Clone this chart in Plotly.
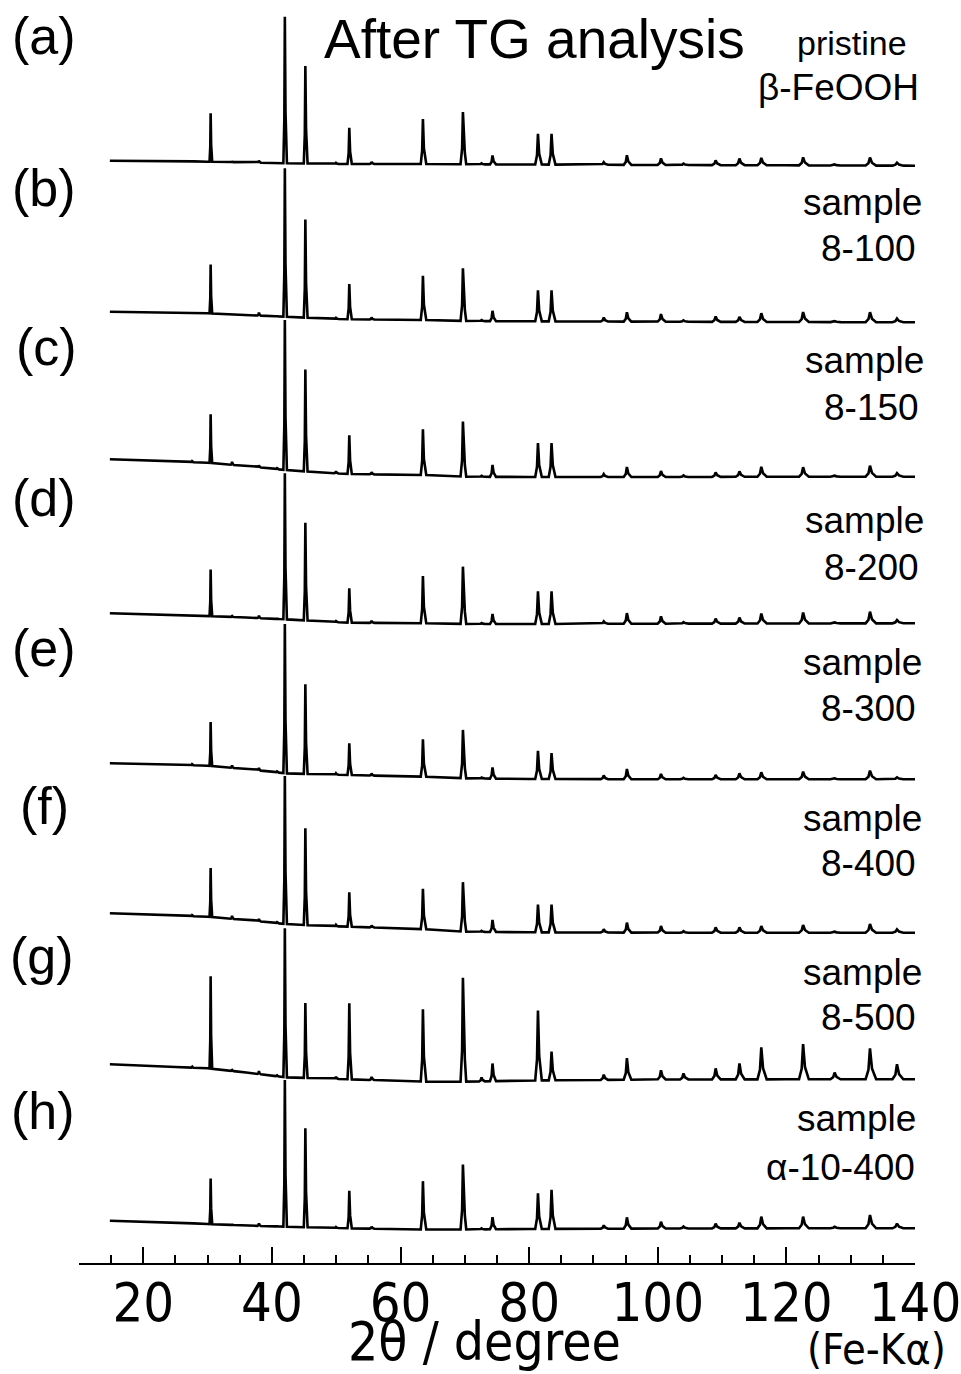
import numpy as np
import plotly.graph_objects as go

# ---- data -------------------------------------------------------------
# 2theta positions (deg, Fe-Kalpha) of the reflections that show up in the patterns
peak_2theta = [27.6, 30.47, 33.8, 37.98, 40.8, 42.01, 45.20, 49.96, 52.03, 55.5,
               63.48, 69.70, 72.6, 74.3, 81.37, 83.48, 91.6, 95.2, 100.5, 104.0,
               109.0, 112.7, 116.1, 122.6, 127.5, 133.0, 137.2]

# peak heights (a.u.) above the local background, one list per sample
h_a = [0.5, 48.4, 0.5, 2, 0.5, 146.6, 97.5, 1, 36.3, 2, 45, 52.3, 1, 9, 30.7, 30.7,
       2.5, 9.7, 6.7, 1.5, 4.7, 6.7, 7.3, 8, 1, 8, 3]
h_b = [0.5, 49, 0.5, 3, 0.5, 148.4, 98.2, 1, 35.3, 2, 44.3, 52.7, 1, 10.3, 31, 31,
       4, 9.3, 7.7, 1.5, 5.3, 5, 8.7, 10, 1, 10, 3.7]
h_c = [1, 48.7, 3, 2, 1, 150, 102, 2, 38.7, 2, 45.7, 55, 1, 12, 34, 34,
       3, 10, 6, 1.5, 4.5, 5.5, 10, 9.5, 1, 11, 3.5]
h_d = [0.5, 46.7, 1, 2.5, 0.5, 146, 97.7, 1, 34.4, 2, 47.3, 57.3, 1, 10, 32.7, 32.7,
       2.5, 10.7, 7.3, 1.5, 5, 6, 10, 11, 1, 11.7, 3.3]
h_e = [1, 44, 2.5, 2.5, 1, 149.3, 89.7, 1.5, 31.7, 2, 37.4, 48.3, 1, 11.2, 28.3, 26,
       3.7, 10.3, 5.3, 1.5, 4.3, 6, 7, 7.7, 1, 8.7, 2]
h_f = [1, 49, 3, 2.5, 1, 148, 96.7, 1.5, 34.4, 2, 40.3, 49.4, 1, 12, 27.7, 27.7,
       3.3, 10, 6.7, 1.5, 5.3, 5.3, 6.7, 7.7, 1, 8.7, 3.3]
h_g = [1, 92.3, 1, 3, 1, 149, 75, 2, 76, 3, 72.4, 104, 4, 17.7, 70, 28.7,
       5.3, 21.7, 9.3, 6, 11, 16, 32, 35.3, 6.7, 31, 15]
h_h = [0.5, 45.7, 0.5, 2.5, 0.5, 146.7, 99, 1, 37.6, 2, 48.3, 65, 1, 12.2, 35.6, 39,
       3.3, 11.3, 6.7, 2, 4.7, 5.7, 11.7, 11.7, 1.5, 13.3, 4.7]

# background drift (a.u., relative to the start of each scan) at these 2theta nodes
bg_2theta = [14.8, 20, 25, 30, 36, 42, 48, 52, 58, 64, 70, 80, 100, 120, 140]
bg_a = [0, 0, -0.3, -1, -1.6, -2.6, -3, -3.3, -3.3, -3.3, -3.6, -3.8, -4.3, -4.6, -5]
bg_b = [0, -0.3, -0.8, -1.6, -3.3, -5, -6.8, -7.6, -8, -8.3, -9.3, -9.6, -10, -10.3, -10.6]
bg_c = [0, -1.2, -2.4, -3.4, -6.7, -10.7, -13.4, -14.7, -15.2, -15.7, -17.4, -17.7, -17.7, -17.4, -17.4]
bg_d = [0, -0.7, -1.7, -2.7, -4.2, -6, -8.2, -9.4, -9.7, -10, -10.7, -10.7, -10.4, -10.2, -10]
bg_e = [0, -0.7, -1.5, -2.4, -5.7, -10, -11.2, -11.7, -12.7, -13.4, -15, -15.7, -16, -16, -16]
bg_f = [0, -1.2, -2.2, -3.4, -6.7, -10.7, -12.7, -13.4, -14.7, -16, -18.4, -19, -19.4, -19.4, -19.4]
bg_g = [0, -1.7, -2.7, -4, -8.2, -13, -14.2, -15, -16.2, -17.4, -17.4, -16.2, -15.2, -15, -15]
bg_h = [0, -0.8, -1.8, -3.3, -4.8, -6, -7, -7.6, -8.3, -8.8, -8.8, -8.3, -7.8, -7.6, -7.6]

# vertical stacking offsets (a.u.)
stack_offset = [1102.3, 951.3, 803.7, 649.7, 499.7, 349.7, 198.7, 42.3]

panel_tags = ["(a)", "(b)", "(c)", "(d)", "(e)", "(f)", "(g)", "(h)"]
sample_line1 = ["pristine", "sample", "sample", "sample", "sample", "sample", "sample", "sample"]
sample_line2 = ["β-FeOOH", "8-100", "8-150", "8-200", "8-300", "8-400", "8-500", "α-10-400"]

heights = [h_a, h_b, h_c, h_d, h_e, h_f, h_g, h_h]
backgrounds = [bg_a, bg_b, bg_c, bg_d, bg_e, bg_f, bg_g, bg_h]

X_MIN, X_MAX = 10, 140
Y_TOP = 1263

# ---- figure geometry (px) ---------------------------------------------
W, H = 961, 1374
ML, MR, MT, MB = 79, 44, 0, 111
PW = W - ML - MR


def paper_x(px):
    return (px - ML) / PW


def paper_y(px):
    return (H - MB - px) / (H - MB - MT)


def profile(pos):
    """Sharp peak outline (relative x, relative y) with a Kalpha2-like right tail."""
    w = 0.12 + 0.005 * (pos - 20)
    rx = [-w, -0.35 * w, 0.0, 0.45 * w, 1.4 * w]
    ry = [0.0, 0.3, 1.0, 0.35, 0.0]
    return rx, ry


def build_pattern(hts, bg, offset):
    xs = set(bg_2theta)
    shapes = []
    for p, h in zip(peak_2theta, hts):
        rx, ry = profile(p)
        sx = [p + r for r in rx]
        shapes.append((sx, [h * r for r in ry]))
        xs.update(sx)
    x = np.array(sorted(v for v in xs if bg_2theta[0] <= v <= bg_2theta[-1]))
    y = offset + np.interp(x, bg_2theta, bg)
    for sx, sy in shapes:
        y = y + np.interp(x, sx, sy, left=0.0, right=0.0)
    return x, y


fig = go.Figure()
for hts, bg, off in zip(heights, backgrounds, stack_offset):
    x, y = build_pattern(hts, bg, off)
    fig.add_trace(go.Scatter(x=x, y=y, mode="lines",
                             line=dict(color="black", width=2.6),
                             showlegend=False, hoverinfo="skip"))

SANS = "Liberation Sans, Arial, sans-serif"
NARROW = "DejaVu Sans Condensed, Liberation Sans Narrow, Arial Narrow, sans-serif"

ann = []
# title
ann.append(dict(text="After TG analysis", x=paper_x(323), y=paper_y(38.5),
                xanchor="left", yanchor="middle", font=dict(family=SANS, size=55)))

# panel tags on the left
tag_cx = [43.5, 43.5, 46.5, 43.5, 43.5, 44, 41.5, 42.5]
tag_cy = [40, 192, 352, 502, 652, 810, 960, 1115]
for t, cx, cy in zip(panel_tags, tag_cx, tag_cy):
    ann.append(dict(text=t, x=paper_x(cx), y=paper_y(cy - 4.5), xanchor="center",
                    yanchor="middle", font=dict(family=SANS, size=52)))

# sample names on the right
l1_cy = [43, 202.2, 360.5, 520.5, 662.2, 818.9, 972.2, 1118.9]
l1_rx = [911, 926.5, 928, 928, 926.5, 926.5, 926.5, 920.5]
l1_sz = [34, 37, 37, 37, 37, 37, 37, 37]
l2_cy = [87, 248.9, 407.9, 567.9, 708.9, 863.9, 1017.2, 1167.2]
l2_rx = [923.5, 920.5, 923, 923, 920.5, 920.5, 920.5, 919]
for s1, s2, c1, r1, z1, c2, r2 in zip(sample_line1, sample_line2, l1_cy, l1_rx,
                                      l1_sz, l2_cy, l2_rx):
    ann.append(dict(text=s1, x=paper_x(r1), y=paper_y(c1), xanchor="right",
                    yanchor="middle", font=dict(family=SANS, size=z1)))
    ann.append(dict(text=s2, x=paper_x(r2), y=paper_y(c2), xanchor="right",
                    yanchor="middle", font=dict(family=SANS, size=37)))

# axis title and radiation note
ann.append(dict(text="2θ / degree", x=paper_x(485), y=paper_y(1341), xanchor="center",
                yanchor="middle", font=dict(family=NARROW, size=53)))
ann.append(dict(text="(Fe-Kα)", x=paper_x(950), y=paper_y(1349), xanchor="right",
                yanchor="middle", font=dict(family=NARROW, size=43)))

for a in ann:
    a.update(xref="paper", yref="paper", showarrow=False, font_color="black")

fig.update_layout(
    width=W, height=H,
    margin=dict(l=ML, r=MR, t=MT, b=MB, pad=0),
    paper_bgcolor="white", plot_bgcolor="white",
    annotations=ann,
    xaxis=dict(range=[X_MIN, X_MAX], showline=True, linecolor="black", linewidth=2,
               ticks="inside", ticklen=16, tickwidth=2, tickcolor="black",
               tick0=0, dtick=20, showgrid=False, zeroline=False,
               ticklabelstandoff=-9, ticklabeloverflow="allow",
               tickfont=dict(family=NARROW, size=54, color="black"),
               minor=dict(tick0=0, dtick=5, ticks="inside", ticklen=8, tickwidth=2,
                          tickcolor="black", showgrid=False)),
    yaxis=dict(range=[0, Y_TOP], visible=False, fixedrange=True),
)

fig.write_html("out.html")
